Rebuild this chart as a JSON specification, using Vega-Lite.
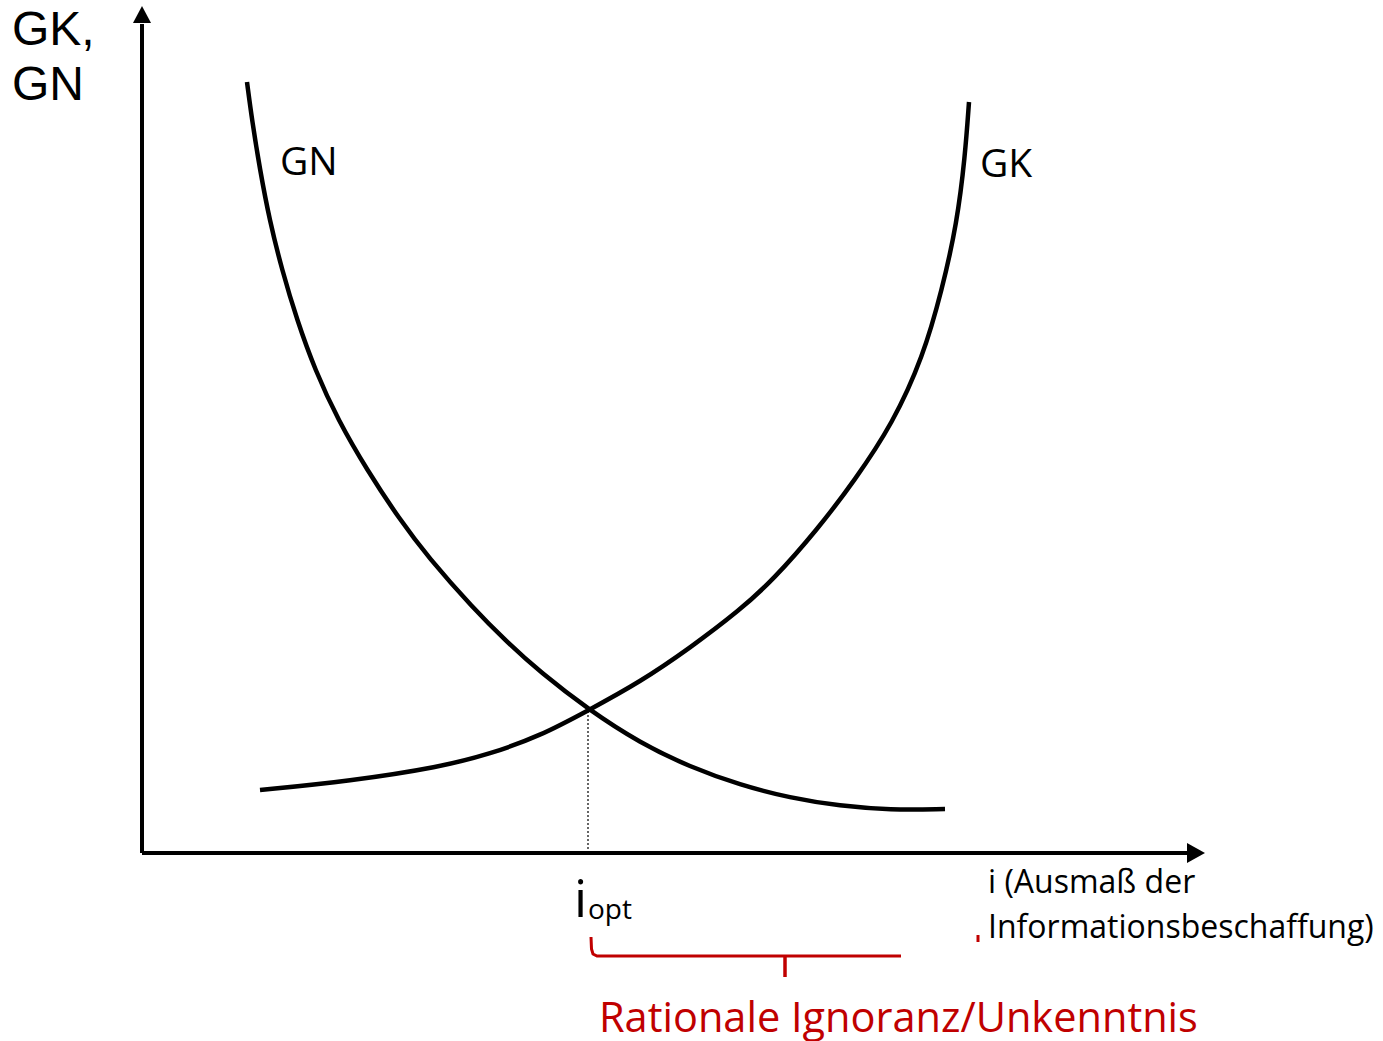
{
  "$schema": "https://vega.github.io/schema/vega-lite/v6.json",
  "width": 1383,
  "height": 1041,
  "autosize": {"type": "fit", "contains": "padding"},
  "padding": 0,
  "background": "white",
  "config": {"view": {"stroke": null}},
  "datasets": {
    "curves": [
      {"curve": "GN", "x": 105, "y": 771},
      {"curve": "GN", "x": 110, "y": 733},
      {"curve": "GN", "x": 118, "y": 683},
      {"curve": "GN", "x": 127.5, "y": 633},
      {"curve": "GN", "x": 140, "y": 583},
      {"curve": "GN", "x": 155, "y": 533},
      {"curve": "GN", "x": 173, "y": 483},
      {"curve": "GN", "x": 196, "y": 433},
      {"curve": "GN", "x": 225, "y": 383},
      {"curve": "GN", "x": 258, "y": 333},
      {"curve": "GN", "x": 286, "y": 296},
      {"curve": "GN", "x": 331, "y": 245},
      {"curve": "GN", "x": 365, "y": 211},
      {"curve": "GN", "x": 398, "y": 181},
      {"curve": "GN", "x": 447, "y": 143},
      {"curve": "GN", "x": 498, "y": 110},
      {"curve": "GN", "x": 548, "y": 86},
      {"curve": "GN", "x": 598, "y": 68},
      {"curve": "GN", "x": 648, "y": 55},
      {"curve": "GN", "x": 698, "y": 47},
      {"curve": "GN", "x": 748, "y": 43},
      {"curve": "GN", "x": 803, "y": 44},
      {"curve": "GK", "x": 118, "y": 63},
      {"curve": "GK", "x": 208, "y": 72},
      {"curve": "GK", "x": 298, "y": 86},
      {"curve": "GK", "x": 348, "y": 99},
      {"curve": "GK", "x": 398, "y": 117},
      {"curve": "GK", "x": 447, "y": 143},
      {"curve": "GK", "x": 498, "y": 171},
      {"curve": "GK", "x": 548, "y": 205},
      {"curve": "GK", "x": 598, "y": 243},
      {"curve": "GK", "x": 631, "y": 273},
      {"curve": "GK", "x": 675, "y": 323},
      {"curve": "GK", "x": 713, "y": 373},
      {"curve": "GK", "x": 751, "y": 430},
      {"curve": "GK", "x": 781, "y": 496},
      {"curve": "GK", "x": 800, "y": 563},
      {"curve": "GK", "x": 815, "y": 630},
      {"curve": "GK", "x": 823, "y": 696},
      {"curve": "GK", "x": 827, "y": 751}
    ],
    "axes": [
      {"axis": "x", "x": 0, "y": 0, "x2": 1047, "y2": 0},
      {"axis": "y", "x": 0, "y": 0, "x2": 0, "y2": 829}
    ],
    "heads": [
      {"axis": "x", "x": 1054, "y": 0},
      {"axis": "y", "x": 0, "y": 838}
    ],
    "dotted": [{"x": 446, "y": 0, "y2": 143}],
    "brace": [
      {"x": 449, "y": -84},
      {"x": 449.5, "y": -96},
      {"x": 451, "y": -101},
      {"x": 455, "y": -103},
      {"x": 759, "y": -103}
    ],
    "braceTip": [{"x": 643, "y": -103, "y2": -124}],
    "redMark": [{"x": 836, "y": -82, "y2": -89}],
    "labels": [
      {"kind": "ytitle", "x": -130, "y": 808, "label": "GK,"},
      {"kind": "ytitle", "x": -130, "y": 753, "label": "GN"},
      {"kind": "curve", "x": 138, "y": 678, "label": "GN"},
      {"kind": "curve", "x": 838, "y": 676, "label": "GK"},
      {"kind": "xtitle", "x": 846, "y": -40, "label": "i (Ausmaß der"},
      {"kind": "xtitle", "x": 846, "y": -85, "label": "Informationsbeschaffung)"},
      {"kind": "i", "x": 432, "y": -64, "label": "i"},
      {"kind": "opt", "x": 446, "y": -66, "label": "opt"},
      {"kind": "red", "x": 457, "y": -179, "label": "Rationale Ignoranz/Unkenntnis"}
    ]
  },
  "encoding": {
    "x": {"field": "x", "type": "quantitative", "scale": {"domain": [-142, 1241], "nice": false, "zero": false}, "axis": null},
    "y": {"field": "y", "type": "quantitative", "scale": {"domain": [-188, 853], "nice": false, "zero": false}, "axis": null}
  },
  "layer": [
    {
      "data": {"name": "dotted"},
      "mark": {"type": "rule", "color": "#333333", "strokeWidth": 1.5, "strokeDash": [2, 2]},
      "encoding": {"y2": {"field": "y2"}}
    },
    {
      "data": {"name": "axes"},
      "mark": {"type": "rule", "color": "black", "strokeWidth": 4},
      "encoding": {"x2": {"field": "x2"}, "y2": {"field": "y2"}}
    },
    {
      "data": {"name": "heads"},
      "transform": [{"filter": "datum.axis == 'y'"}],
      "mark": {"type": "point", "filled": true, "color": "black", "opacity": 1, "size": 324, "shape": "M0,-1L1,0.9L-1,0.9Z", "strokeWidth": 0}
    },
    {
      "data": {"name": "heads"},
      "transform": [{"filter": "datum.axis == 'x'"}],
      "mark": {"type": "point", "filled": true, "color": "black", "opacity": 1, "size": 324, "shape": "M1,0L-1,-1.1L-1,1.1Z", "strokeWidth": 0}
    },
    {
      "data": {"name": "curves"},
      "mark": {"type": "line", "color": "black", "strokeWidth": 4.5, "interpolate": "basis"},
      "encoding": {"detail": {"field": "curve"}}
    },
    {
      "data": {"name": "brace"},
      "mark": {"type": "line", "color": "#c00000", "strokeWidth": 3, "interpolate": "linear"}
    },
    {
      "data": {"name": "braceTip"},
      "mark": {"type": "rule", "color": "#c00000", "strokeWidth": 3.5},
      "encoding": {"y2": {"field": "y2"}}
    },
    {
      "data": {"name": "redMark"},
      "mark": {"type": "rule", "color": "#c00000", "strokeWidth": 3},
      "encoding": {"y2": {"field": "y2"}}
    },
    {
      "data": {"name": "labels"},
      "transform": [{"filter": "datum.kind == 'ytitle'"}],
      "mark": {"type": "text", "font": "Liberation Sans", "fontSize": 48, "align": "left", "baseline": "alphabetic", "color": "black"},
      "encoding": {"text": {"field": "label"}}
    },
    {
      "data": {"name": "labels"},
      "transform": [{"filter": "datum.kind == 'curve'"}],
      "mark": {"type": "text", "font": "Open Sans", "fontSize": 39, "align": "left", "baseline": "alphabetic", "color": "black"},
      "encoding": {"text": {"field": "label"}}
    },
    {
      "data": {"name": "labels"},
      "transform": [{"filter": "datum.kind == 'xtitle'"}],
      "mark": {"type": "text", "font": "Open Sans", "fontSize": 32, "align": "left", "baseline": "alphabetic", "color": "black"},
      "encoding": {"text": {"field": "label"}}
    },
    {
      "data": {"name": "labels"},
      "transform": [{"filter": "datum.kind == 'i'"}],
      "mark": {"type": "text", "font": "Open Sans", "fontSize": 52, "align": "left", "baseline": "alphabetic", "color": "black"},
      "encoding": {"text": {"field": "label"}}
    },
    {
      "data": {"name": "labels"},
      "transform": [{"filter": "datum.kind == 'opt'"}],
      "mark": {"type": "text", "font": "Open Sans", "fontSize": 28, "align": "left", "baseline": "alphabetic", "color": "black"},
      "encoding": {"text": {"field": "label"}}
    },
    {
      "data": {"name": "labels"},
      "transform": [{"filter": "datum.kind == 'red'"}],
      "mark": {"type": "text", "font": "Open Sans", "fontSize": 41.5, "align": "left", "baseline": "alphabetic", "color": "#c00000"},
      "encoding": {"text": {"field": "label"}}
    }
  ]
}
